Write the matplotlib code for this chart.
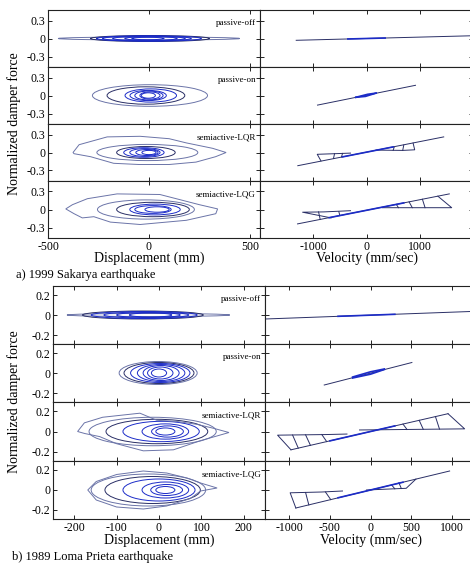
import matplotlib
matplotlib.use("Agg")
import matplotlib.pyplot as plt
from matplotlib.patches import Ellipse, Polygon

plt.rcParams["font.family"] = ["Liberation Serif", "DejaVu Serif"]
plt.rcParams["axes.unicode_minus"] = False

W, H = 470, 567

# ---------------- a) 1999 Sakarya earthquake ----------------
# displacement loops: centre (mm), width (mm), height (normalized force)
SAK_OFF_C = [0, 5, 0, -10, 0, 10, -5]
SAK_OFF_W = [900, 590, 520, 440, 360, 260, 160]
SAK_OFF_H = [0.05, 0.10, 0.09, 0.08, 0.07, 0.06, 0.04]

SAK_ON_C = [5, -15, 9, -4, 0, 5, -3]
SAK_ON_W = [570, 385, 255, 180, 140, 100, 70]
SAK_ON_H = [0.36, 0.29, 0.22, 0.17, 0.15, 0.12, 0.09]

SAK_LQR_C = [-8, -15, -25, -20, -10, 0]
SAK_LQR_W = [500, 290, 200, 150, 110, 70]
SAK_LQR_H = [0.27, 0.20, 0.16, 0.13, 0.10, 0.07]
SAK_LQR_PX = [-376, -346, -207, -44, 100, 185, 315, 382, 330, 233, 100, -50, -175, -289, -371, -376]
SAK_LQR_PF = [0.0, 0.13, 0.26, 0.27, 0.23, 0.16, 0.07, 0.0, -0.07, -0.16, -0.2, -0.2, -0.18, -0.07, -0.02, 0.0]

SAK_LQG_C = [-15, 20, 30, 20, 40]
SAK_LQG_W = [480, 360, 250, 180, 120]
SAK_LQG_H = [0.32, 0.24, 0.18, 0.13, 0.09]
SAK_LQG_PX = [-412, -379, -305, -158, 54, 135, 250, 340, 331, 185, -44, -191, -273, -330, -371, -412]
SAK_LQG_PF = [0.01, 0.08, 0.18, 0.26, 0.25, 0.18, 0.08, 0.01, -0.07, -0.18, -0.25, -0.21, -0.12, -0.14, -0.07, 0.01]

# velocity traces: polylines (mm/sec, normalized force)
SAK_VOFF_V = [[-1320, 1950], [-350, 350]]
SAK_VOFF_F = [[-0.03, 0.045], [-0.008, 0.008]]

SAK_VON_V = [[-920, 920], [-200, -20, 180], [-200, 20, 180]]
SAK_VON_F = [[-0.16, 0.17], [-0.03, -0.015, 0.04], [-0.03, 0.02, 0.04]]

SAK_VLQR_V = [[-1290, 1450], [-855, -925, -600, -300], [180, 680, 905, 875],
              [-600, -620], [-450, -470], [500, 520], [680, 700], [-450, 500]]
SAK_VLQR_F = [[-0.22, 0.26], [-0.14, -0.03, -0.02, -0.01], [0.04, 0.035, 0.045, 0.157],
              [-0.02, -0.10], [-0.015, -0.075], [0.035, 0.09], [0.035, 0.125], [-0.073, 0.093]]

SAK_VLQG_V = [[-1295, 1555], [-665, -1200, -800, -300], [300, 900, 1600, 1340],
              [-900, -870], [-520, -500], [600, 560], [860, 800], [1100, 1050], [-700, 700]]
SAK_VLQG_F = [[-0.24, 0.26], [-0.14, -0.045, -0.04, -0.02], [0.03, 0.03, 0.03, 0.222],
              [-0.04, -0.165], [-0.035, -0.101], [0.03, 0.085], [0.03, 0.127], [0.03, 0.171], [-0.136, 0.11]]

# ---------------- b) 1989 Loma Prieta earthquake ----------------
LOM_OFF_C = [-25, -38, -35, -30, -25, -20]
LOM_OFF_W = [384, 285, 250, 200, 150, 100]
LOM_OFF_H = [0.03, 0.08, 0.07, 0.06, 0.05, 0.04]

LOM_ON_C = [-2, 0, 3, 5, 5, 3, 0]
LOM_ON_W = [184, 165, 140, 112, 85, 60, 36]
LOM_ON_H = [0.23, 0.21, 0.19, 0.17, 0.15, 0.12, 0.08]

LOM_LQR_C = [-15, -5, 5, 15, 20, 15]
LOM_LQR_W = [300, 240, 180, 110, 75, 45]
LOM_LQR_H = [0.28, 0.24, 0.20, 0.15, 0.11, 0.07]
LOM_LQR_PX = [-192, -176, -133, -45, -5, 40, 90, 130, 165, 140, 98, 34, -37, -100, -140, -175, -192]
LOM_LQR_PF = [0.0, 0.085, 0.14, 0.18, 0.11, 0.10, 0.07, 0.03, -0.01, -0.04, -0.09, -0.18, -0.19, -0.12, -0.05, -0.02, 0.0]

LOM_LQG_C = [-25, -15, 0, 15, 18, 15]
LOM_LQG_W = [270, 225, 170, 110, 75, 45]
LOM_LQG_H = [0.32, 0.27, 0.22, 0.16, 0.11, 0.07]
LOM_LQG_PX = [-168, -148, -100, -37, 18, 66, 98, 137, 98, 74, 18, -37, -100, -148, -168]
LOM_LQG_PF = [0.0, 0.085, 0.155, 0.19, 0.17, 0.12, 0.07, 0.02, -0.01, -0.085, -0.16, -0.19, -0.17, -0.1, 0.0]

LOM_VOFF_V = [[-1300, 1300], [-400, 300]]
LOM_VOFF_F = [[-0.04, 0.037], [-0.013, 0.007]]

LOM_VON_V = [[-570, 510], [-220, 0, 170], [-220, 0, 170]]
LOM_VON_F = [[-0.12, 0.105], [-0.05, -0.012, 0.035], [-0.04, 0.012, 0.04]]

LOM_VLQR_V = [[-980, 955], [-980, -1145, -550, -290], [-135, 1160, 955],
              [-960, -890], [-800, -740], [-600, -540], [450, 400], [650, 600], [850, 800], [-500, 300]]
LOM_VLQR_F = [[-0.18, 0.175], [-0.18, -0.036, -0.03, -0.025], [0.015, 0.026, 0.175],
              [-0.035, -0.163], [-0.033, -0.136], [-0.03, -0.099], [0.02, 0.073], [0.022, 0.11], [0.024, 0.147], [-0.092, 0.055]]

LOM_VLQG_V = [[-920, 975], [-920, -990, -600, -345], [-50, 440, 560],
              [-800, -760], [-555, -490], [300, 260], [380, 350], [-400, 400]]
LOM_VLQG_F = [[-0.18, 0.19], [-0.18, -0.028, -0.02, -0.01], [0.0, 0.017, 0.109],
              [-0.025, -0.149], [-0.02, -0.096], [0.012, 0.05], [0.015, 0.072], [-0.078, 0.078]]

LABELS = ["passive-off", "passive-on", "semiactive-LQR", "semiactive-LQG"]

DARK = "#2a2f66"
GRAY = "#6b74a8"
BLUE = "#1c2cc8"

fig = plt.figure(figsize=(W / 100, H / 100), dpi=100)


def add_ax(x0, x1, y0, y1):
    return fig.add_axes([x0 / W, 1 - y1 / H, (x1 - x0) / W, (y1 - y0) / H])


def style(ax, xlim, xticks, ylim, yticks, show_x, show_y, xlabels=None):
    ax.set_xlim(xlim)
    ax.set_ylim(ylim)
    ax.set_xticks(xticks)
    ax.set_yticks(yticks)
    ax.tick_params(direction="in", length=3, width=0.6, top=True, right=True,
                   labelsize=8.5, pad=2)
    if show_x:
        ax.set_xticklabels(xlabels if xlabels else [f"{t:g}" for t in xticks])
    else:
        ax.set_xticklabels([])
    if show_y:
        ax.set_yticklabels([f"{t:g}" for t in yticks])
    else:
        ax.set_yticklabels([])
    for s in ax.spines.values():
        s.set_linewidth(0.8)
        s.set_color("#222222")


def draw_loops(ax, cs, ws, hs, px=None, pf=None):
    n = len(cs)
    for i, (c, w, h) in enumerate(zip(cs, ws, hs)):
        col = GRAY if i == 0 else (DARK if i == 1 else BLUE)
        ax.add_patch(Ellipse((c, 0), w, h, fill=False, ec=col, lw=0.7))
    if px is not None:
        ax.add_patch(Polygon(list(zip(px, pf)), closed=True, fill=False, ec=GRAY, lw=0.7))


def draw_vel(ax, vs, fs):
    for i, (v, f) in enumerate(zip(vs, fs)):
        last = i == len(vs) - 1 and len(vs) > 2
        col = BLUE if (i > 0 and (len(vs) <= 3 or last)) else DARK
        ax.plot(v, f, color=col, lw=1.2 if col == BLUE else 0.7)


groups = [
    dict(xl=48, xm=260, xr=473, rows=[10, 67, 124, 181, 238],
         dlim=(-500, 550), dticks=[-500, 0, 500],
         vlim=(-2000, 2000), vticks=[-1000, 0, 1000],
         ylim=(-0.475, 0.475), yticks=[-0.3, 0, 0.3],
         disp=[(SAK_OFF_C, SAK_OFF_W, SAK_OFF_H, None, None),
               (SAK_ON_C, SAK_ON_W, SAK_ON_H, None, None),
               (SAK_LQR_C, SAK_LQR_W, SAK_LQR_H, SAK_LQR_PX, SAK_LQR_PF),
               (SAK_LQG_C, SAK_LQG_W, SAK_LQG_H, SAK_LQG_PX, SAK_LQG_PF)],
         vel=[(SAK_VOFF_V, SAK_VOFF_F), (SAK_VON_V, SAK_VON_F),
              (SAK_VLQR_V, SAK_VLQR_F), (SAK_VLQG_V, SAK_VLQG_F)]),
    dict(xl=53, xm=265, xr=476, rows=[286, 344, 402, 461, 519],
         dlim=(-250, 250), dticks=[-200, -100, 0, 100, 200],
         vlim=(-1300, 1300), vticks=[-1000, -500, 0, 500, 1000],
         ylim=(-0.29, 0.29), yticks=[-0.2, 0, 0.2],
         disp=[(LOM_OFF_C, LOM_OFF_W, LOM_OFF_H, None, None),
               (LOM_ON_C, LOM_ON_W, LOM_ON_H, None, None),
               (LOM_LQR_C, LOM_LQR_W, LOM_LQR_H, LOM_LQR_PX, LOM_LQR_PF),
               (LOM_LQG_C, LOM_LQG_W, LOM_LQG_H, LOM_LQG_PX, LOM_LQG_PF)],
         vel=[(LOM_VOFF_V, LOM_VOFF_F), (LOM_VON_V, LOM_VON_F),
              (LOM_VLQR_V, LOM_VLQR_F), (LOM_VLQG_V, LOM_VLQG_F)]),
]

for g in groups:
    rows = g["rows"]
    for k in range(4):
        last = k == 3
        axd = add_ax(g["xl"], g["xm"], rows[k], rows[k + 1])
        style(axd, g["dlim"], g["dticks"], g["ylim"], g["yticks"], last, True)
        c, w, h, px, pf = g["disp"][k]
        draw_loops(axd, c, w, h, px, pf)
        axd.text(1 - 4 / (g["xm"] - g["xl"]), 0.77, LABELS[k], transform=axd.transAxes,
                 ha="right", va="center", fontsize=6.5)
        axv = add_ax(g["xm"], g["xr"], rows[k], rows[k + 1])
        style(axv, g["vlim"], g["vticks"], g["ylim"], g["yticks"], last, False)
        vs, fs = g["vel"][k]
        draw_vel(axv, vs, fs)

# axis titles and captions
fig.text(14 / W, 1 - 124 / H, "Normalized damper force", rotation=90, ha="center", va="center", fontsize=10)
fig.text(14 / W, 1 - 402 / H, "Normalized damper force", rotation=90, ha="center", va="center", fontsize=10)
fig.text(149 / W, 1 - 258 / H, "Displacement (mm)", ha="center", va="center", fontsize=10)
fig.text(367 / W, 1 - 258 / H, "Velocity (mm/sec)", ha="center", va="center", fontsize=10)
fig.text(159 / W, 1 - 540 / H, "Displacement (mm)", ha="center", va="center", fontsize=10)
fig.text(371 / W, 1 - 540 / H, "Velocity (mm/sec)", ha="center", va="center", fontsize=10)
fig.text(16 / W, 1 - 275 / H, "a) 1999 Sakarya earthquake", ha="left", va="center", fontsize=9)
fig.text(12 / W, 1 - 557 / H, "b) 1989 Loma Prieta earthquake", ha="left", va="center", fontsize=9)

fig.savefig("out.png", dpi=100)
